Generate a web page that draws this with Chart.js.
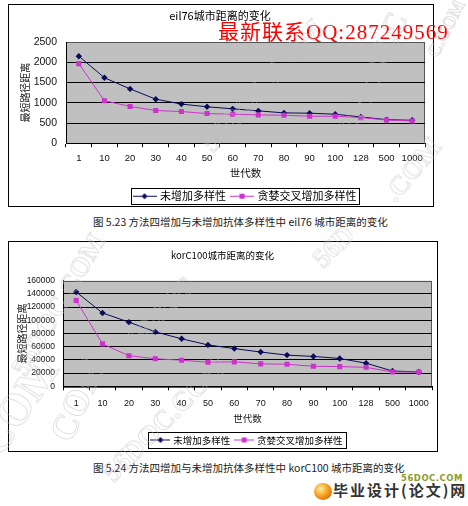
<html>
<head>
<meta charset="utf-8">
<title>方法四增加与未增加抗体多样性中城市距离的变化</title>
<script src="https://cdn.jsdelivr.net/npm/chart.js@4.4.1/dist/chart.umd.min.js"></script>
<style>
  html, body { margin: 0; padding: 0; background: #fff; }
  body { width: 468px; height: 506px; position: relative; overflow: hidden; font-family: "Noto Sans CJK SC", sans-serif; }
  .box { position: absolute; border: 1px solid #000; background: #fff; }
  .box canvas { display: block; }
  #box1 { left: 8px; top: 4px; }
  #box2 { left: 8px; top: 241px; }
  .caption { position: absolute; font-size: 10.5px; line-height: 14px; color: #222; white-space: nowrap; }
  #qq { position: absolute; left: 218px; top: 20px; color: #f00; font-size: 21px; line-height: 24px;
        font-family: "Liberation Serif", "Noto Sans CJK SC", serif; letter-spacing: 1px; white-space: nowrap; }
  .wm { position: absolute; white-space: nowrap; color: transparent; font-family: "Liberation Serif", serif; font-weight: bold;
        -webkit-text-stroke: 1px rgba(190, 190, 190, 0.45); transform-origin: 0 100%; pointer-events: none; line-height: 1; }
  #ball { position: absolute; left: 314px; top: 483px; width: 18px; height: 17px; border-radius: 50%;
          background: radial-gradient(circle at 38% 35%, #fff0a0 0%, #f7a020 45%, #c05000 100%); }
  #site { position: absolute; left: 401px; top: 473px; font: bold 8.5px "DejaVu Sans", sans-serif; color: #8c9c2c; letter-spacing: 0.5px; }
  #sitecn { position: absolute; left: 333px; top: 480px; font-size: 15px; font-weight: bold; color: #333; letter-spacing: 2px; line-height: 20px; white-space: nowrap; }
</style>
</head>
<body>
  <div class="box" id="box1"><canvas id="c1" width="424" height="201"></canvas></div>
  <div class="caption" style="left:93px; top:215px;">图 5.23 方法四增加与未增加抗体多样性中 eil76 城市距离的变化</div>
  <div id="qq">最新联系QQ:287249569</div>

  <div class="box" id="box2"><canvas id="c2" width="428" height="209"></canvas></div>
  <div class="caption" style="left:93px; top:461px;">图 5.24 方法四增加与未增加抗体多样性中 korC100 城市距离的变化</div>

  <div id="ball"></div>
  <div id="site">56DOC.COM</div>
  <div id="sitecn">毕业设计(论文)网</div>

<script>
// generations on the x axis
const generations = ['1', '10', '20', '30', '40', '50', '60', '70', '80', '90', '100', '128', '500', '1000'];
const seriesNames = ['未增加多样性', '贪婪交叉增加多样性'];

// eil76: shortest path length
const eilPlain = [2150, 1617, 1342, 1088, 967, 900, 850, 800, 750, 742, 717, 650, 583, 567];
const eilCross = [1967, 1050, 908, 808, 783, 733, 717, 700, 692, 667, 667, 633, 575, 550];

// korC100: shortest path length
const korPlain = [142900, 111100, 97200, 82500, 71900, 62650, 57100, 51850, 47200, 45200, 42100, 34900, 23150, 21600];
const korCross = [130000, 64200, 46300, 41650, 39500, 36400, 37000, 33950, 33350, 30250, 29800, 28700, 21600, 21600];

const plainColor = '#0a0a5a';
const crossColor = '#cc33cc';

Chart.defaults.font.family = "'Noto Sans CJK SC', sans-serif";
Chart.defaults.color = '#000';

// small "line with marker" picture used as legend symbol
function legendIcon(color, style, w) {
  const c = document.createElement('canvas');
  c.width = w; c.height = 9;
  const g = c.getContext('2d');
  g.strokeStyle = color; g.lineWidth = 1;
  g.beginPath(); g.moveTo(0, 4.5); g.lineTo(w, 4.5); g.stroke();
  g.fillStyle = color;
  const m = w / 2;
  if (style === 'diamond') {
    g.beginPath(); g.moveTo(m, 1.5); g.lineTo(m + 3, 4.5); g.lineTo(m, 7.5); g.lineTo(m - 3, 4.5); g.closePath(); g.fill();
  } else {
    g.fillRect(m - 2.5, 2, 5, 5);
  }
  return c;
}

// grey plot area, its frame and the frame around the legend
const excelLook = {
  id: 'excelLook',
  beforeDraw(chart) {
    const { ctx, chartArea: a } = chart;
    ctx.save();
    ctx.fillStyle = '#c0c0c0';
    ctx.fillRect(a.left, a.top, a.width, a.height);
    ctx.strokeStyle = '#555';
    ctx.lineWidth = 1;
    ctx.strokeRect(Math.round(a.left) + 0.5, Math.round(a.top) + 0.5, Math.round(a.width) - 1, Math.round(a.height));
    ctx.restore();
  },
  afterDraw(chart) {
    const hb = chart.legend.legendHitBoxes;
    if (!hb || !hb.length) return;
    const first = hb[0], last = hb[hb.length - 1];
    const x0 = Math.round(first.left - 4) + 0.5;
    const x1 = Math.round(last.left + last.width + 3) + 0.5;
    const cy = first.top + first.height / 2;
    const ctx = chart.ctx;
    ctx.save();
    ctx.strokeStyle = '#000';
    ctx.lineWidth = 1;
    ctx.strokeRect(x0, Math.round(cy - 8) + 0.5, x1 - x0, 16);
    ctx.restore();
  }
};

function makeChart(canvasId, title, plain, cross, s) {
  const iconPlain = legendIcon(plainColor, 'diamond', s.iconW);
  const iconCross = legendIcon(crossColor, 'square', s.iconW);
  return new Chart(document.getElementById(canvasId), {
    type: 'line',
    data: {
      labels: generations,
      datasets: [
        {
          label: seriesNames[0], data: plain, order: 1,
          borderColor: plainColor, backgroundColor: plainColor, borderWidth: 1,
          pointStyle: 'rectRot', pointRadius: 3.2, pointBorderWidth: 0, tension: 0
        },
        {
          label: seriesNames[1], data: cross, order: 0,
          borderColor: crossColor, backgroundColor: crossColor, borderWidth: 1,
          pointStyle: 'rect', pointRadius: 3.6, pointBorderWidth: 0, tension: 0
        }
      ]
    },
    options: {
      responsive: false,
      animation: false,
      layout: { padding: s.pad },
      plugins: {
        tooltip: { enabled: false },
        title: {
          display: true, text: title, color: '#000',
          font: { size: s.titleSize, weight: 'normal' },
          padding: s.titlePad
        },
        legend: {
          position: 'bottom',
          fullSize: false,
          labels: {
            usePointStyle: true,
            pointStyleWidth: s.iconBox,
            padding: 6,
            color: '#000',
            font: { size: s.legendSize },
            generateLabels: (chart) => chart.data.datasets.map((ds, i) => ({
              text: ds.label,
              pointStyle: i === 0 ? iconPlain : iconCross,
              datasetIndex: i,
              hidden: false,
              fillStyle: 'transparent',
              strokeStyle: 'transparent',
              lineWidth: 0,
              fontColor: '#000'
            }))
          }
        }
      },
      scales: {
        x: {
          offset: true,
          afterFit: (scale) => { scale.height = s.xHeight; },
          grid: { offset: true, drawOnChartArea: false, drawTicks: true, tickLength: 4, color: '#000' },
          border: { color: '#000', width: 1 },
          ticks: { padding: s.xTickPad, color: '#111', maxRotation: 0, autoSkip: false, font: { family: 'Liberation Sans', size: s.xTickSize } },
          title: { display: true, text: '世代数', color: '#111', font: { size: s.xTitleSize }, padding: { top: 0, bottom: s.xTitlePad } }
        },
        y: {
          min: 0, max: s.yMax,
          afterFit: (scale) => { scale.width = s.yWidth; },
          grid: {
            drawTicks: false,
            color: (ctx) => (ctx.tick && ctx.tick.value === s.yMax ? 'rgba(0,0,0,0)' : '#000')
          },
          border: { color: '#000', width: 1 },
          ticks: {
            stepSize: s.yStep, padding: s.yTickPad, color: '#111', autoSkip: false,
            font: { family: 'Liberation Sans', size: s.yTickSize },
            callback: (v) => String(v)
          },
          title: { display: true, text: '最短路径距离', color: '#111', font: { size: 10 }, padding: { top: s.yTitlePad, bottom: 0 } }
        }
      }
    },
    plugins: [excelLook]
  });
}

makeChart('c1', 'eil76城市距离的变化', eilPlain, eilCross, {
  pad: { left: 6, right: 8, top: 0, bottom: -5.75 },
  titleSize: 11, titlePad: { top: 4.4, bottom: 19.4 },
  legendSize: 11, iconW: 24, iconBox: 20,
  xHeight: 41.5, xTickPad: 5, xTickSize: 9.5, xTitleSize: 10.5, xTitlePad: 5.4,
  yMax: 2500, yStep: 500, yWidth: 51, yTickPad: 9, yTickSize: 10.5, yTitlePad: 4
});

makeChart('c2', 'korC100城市距离的变化', korPlain, korCross, {
  pad: { left: 4, right: 5, top: 0, bottom: -3.75 },
  titleSize: 9.5, titlePad: { top: 7.3, bottom: 20 },
  legendSize: 9.5, iconW: 20, iconBox: 16,
  xHeight: 43, xTickPad: 7.4, xTickSize: 9, xTitleSize: 9.5, xTitlePad: 5.5,
  yMax: 160000, yStep: 20000, yWidth: 50, yTickPad: 8, yTickSize: 8.5, yTitlePad: 3
});

// faint diagonal site watermarks of the scan
const marks = [
  ['56DOC.COM', 217, 157, 330, 33],
  ['56DOC.C', 360, 140, 413, 20],
  ['.COM', 400, 207, 447, 150],
  ['C.COM', 440, 60, 468, 5],
  ['56DOC.COM', 30, 380, 110, 243],
  ['56DOC', 143, 350, 200, 290],
  ['56D', 327, 273, 360, 240],
  ['COM', 77, 447, 113, 367],
  ['.COM', 0, 473, 67, 373],
  ['56DOC.COM', 117, 487, 233, 370]
];
marks.forEach(([t, x0, y0, x1, y1]) => {
  const el = document.createElement('div');
  el.className = 'wm';
  el.textContent = t;
  document.body.appendChild(el);
  const len = Math.hypot(x1 - x0, y1 - y0);
  el.style.fontSize = '30px';
  const w = el.getBoundingClientRect().width || 1;
  const size = 30 * len / w;
  el.style.fontSize = size + 'px';
  el.style.left = x0 + 'px';
  el.style.top = (y0 - size) + 'px';
  el.style.transform = 'rotate(' + Math.atan2(y1 - y0, x1 - x0) + 'rad)';
});
</script>
</body>
</html>
